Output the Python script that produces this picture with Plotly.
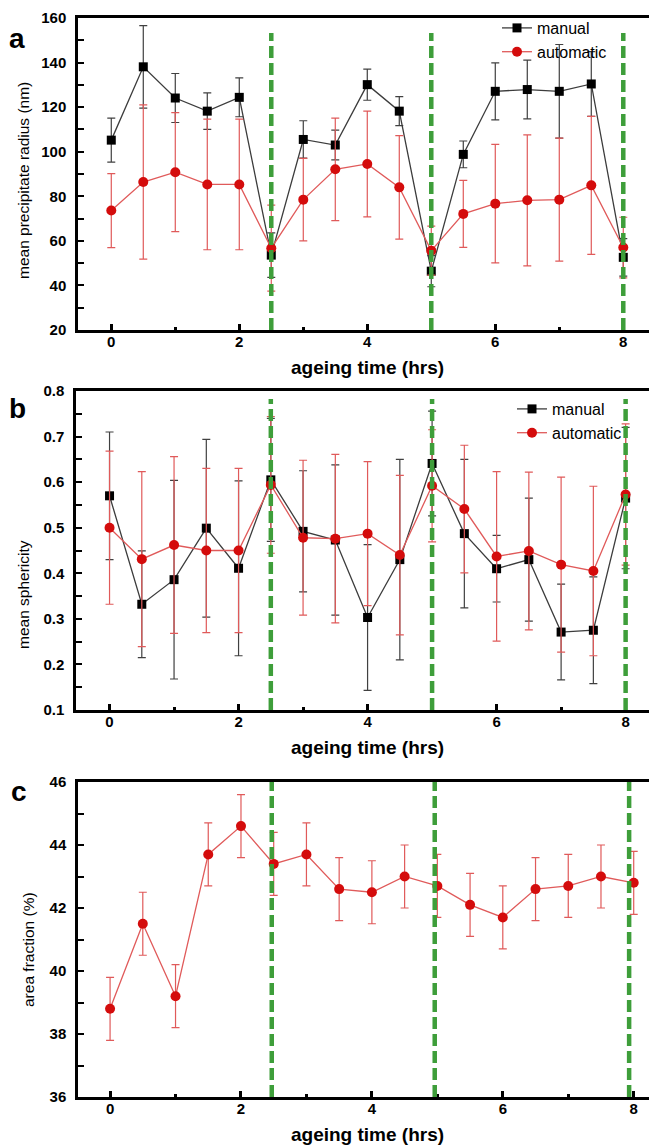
import plotly.graph_objects as go

# ---------------- data ----------------
TIME = [0, 0.5, 1, 1.5, 2, 2.5, 3, 3.5, 4, 4.5, 5, 5.5, 6, 6.5, 7, 7.5, 8]

RADIUS_MANUAL = [105.2, 138.1, 124.1, 118.2, 124.4, 53.6, 105.5, 103.0, 130.1,
                 118.2, 46.4, 98.8, 127.1, 127.9, 127.1, 130.4, 52.6]
RADIUS_MANUAL_ERR = [9.9, 18.5, 11.0, 8.2, 8.7, 10.0, 8.4, 6.7, 7.0,
                     6.5, 7.0, 6.0, 12.8, 13.2, 21.0, 14.5, 8.4]
RADIUS_AUTO = [73.6, 86.4, 90.8, 85.3, 85.3, 56.7, 78.5, 92.1, 94.5,
               84.0, 55.6, 72.1, 76.7, 78.2, 78.5, 84.9, 57.0]
RADIUS_AUTO_ERR = [16.6, 34.6, 26.7, 29.3, 29.3, 19.3, 18.5, 23.0, 23.7,
                   23.2, 11.0, 15.0, 26.6, 29.4, 27.6, 31.0, 13.6]

SPH_MANUAL = [0.570, 0.332, 0.386, 0.499, 0.411, 0.605, 0.492, 0.473, 0.303,
              0.430, 0.641, 0.487, 0.410, 0.430, 0.271, 0.275, 0.565]
SPH_MANUAL_ERR = [0.140, 0.117, 0.218, 0.195, 0.192, 0.135, 0.133, 0.165, 0.160,
                  0.220, 0.115, 0.163, 0.073, 0.135, 0.105, 0.117, 0.155]
SPH_AUTO = [0.500, 0.431, 0.462, 0.450, 0.450, 0.594, 0.478, 0.476, 0.487,
            0.440, 0.592, 0.541, 0.437, 0.449, 0.419, 0.405, 0.573]
SPH_AUTO_ERR = [0.168, 0.192, 0.194, 0.180, 0.180, 0.150, 0.170, 0.185, 0.158,
                0.175, 0.123, 0.140, 0.186, 0.173, 0.192, 0.186, 0.155]

AREA = [38.8, 41.5, 39.2, 43.7, 44.6, 43.4, 43.7, 42.6, 42.5,
        43.0, 42.7, 42.1, 41.7, 42.6, 42.7, 43.0, 42.8]
AREA_ERR = [1.0, 1.0, 1.0, 1.0, 1.0, 1.0, 1.0, 1.0, 1.0,
            1.0, 1.0, 1.0, 1.0, 1.0, 1.0, 1.0, 1.0]

VLINES_AB = [2.5, 5, 8]
VLINES_C = [2.47, 4.96, 7.93]

X_TITLE = "ageing time (hrs)"
Y_TITLES = ["mean precipitate radius (nm)", "mean sphericity", "area fraction (%)"]
PANEL_LETTERS = ["a", "b", "c"]
SERIES_NAMES = ["manual", "automatic"]

# ---------------- style ----------------
OFF = 8                      # default body margin of the page
W, H = 657 - OFF, 1146 - OFF
FONT = "Liberation Sans, Arial, sans-serif"
BLACK_LINE = "#3c3c3c"
RED_MARK = "#d40c0c"
RED_LINE = "#e05a5a"
GREEN = "#3e9e3a"


def px(x):  # page pixel -> paper x
    return (x - OFF) / W


def py(y):  # page pixel -> paper y
    return 1 - (y - OFF) / H


fig = go.Figure()


def add_pair(xa, ya, man, man_err, aut, aut_err, legend):
    fig.add_trace(go.Scatter(
        x=TIME, y=man, name=SERIES_NAMES[0], mode="lines+markers",
        xaxis=xa, yaxis=ya, legend=legend,
        line=dict(color=BLACK_LINE, width=1.3),
        marker=dict(symbol="square", size=9, color="black"),
        error_y=dict(type="data", array=man_err, visible=True,
                     color="#404040", thickness=1.2, width=4),
    ))
    fig.add_trace(go.Scatter(
        x=TIME, y=aut, name=SERIES_NAMES[1], mode="lines+markers",
        xaxis=xa, yaxis=ya, legend=legend,
        line=dict(color=RED_LINE, width=1.3),
        marker=dict(symbol="circle", size=10, color=RED_MARK),
        error_y=dict(type="data", array=aut_err, visible=True,
                     color=RED_LINE, thickness=1.2, width=4),
    ))


add_pair("x", "y", RADIUS_MANUAL, RADIUS_MANUAL_ERR, RADIUS_AUTO, RADIUS_AUTO_ERR, "legend")
add_pair("x2", "y2", SPH_MANUAL, SPH_MANUAL_ERR, SPH_AUTO, SPH_AUTO_ERR, "legend2")
fig.add_trace(go.Scatter(
    x=TIME, y=AREA, mode="lines+markers", xaxis="x3", yaxis="y3", showlegend=False,
    line=dict(color=RED_LINE, width=1.3),
    marker=dict(symbol="circle", size=10, color=RED_MARK),
    error_y=dict(type="data", array=AREA_ERR, visible=True,
                 color=RED_LINE, thickness=1.2, width=4),
))

tickfont = dict(family=FONT, size=15, color="black", weight="bold")


def xaxis(domain, rng, anchor):
    return dict(domain=domain, range=rng, anchor=anchor, showgrid=False, zeroline=False,
                showline=True, linecolor="black", linewidth=2.5, mirror=True,
                ticks="inside", ticklen=6, tickwidth=2.5, tickcolor="black",
                tick0=0, dtick=2, tickfont=tickfont, automargin=False,
                ticklabelstandoff=-4, ticklabeloverflow="allow",
                minor=dict(ticks="inside", ticklen=3, tickwidth=2.5, tickcolor="black",
                           tick0=0, dtick=1))


def yaxis(domain, rng, dtick, mdtick, anchor, fmt=None):
    d = dict(domain=domain, range=rng, anchor=anchor, showgrid=False, zeroline=False,
             showline=True, linecolor="black", linewidth=2.5, mirror=True,
             ticks="inside", ticklen=6, tickwidth=1.5, tickcolor="black",
             tick0=rng[0], dtick=dtick, tickfont=tickfont, automargin=False,
             ticklabelstandoff=6, ticklabeloverflow="allow",
             minor=dict(ticks="inside", ticklen=6, tickwidth=1.5, tickcolor="black",
                        tick0=rng[0], dtick=mdtick))
    if fmt:
        d["tickformat"] = fmt
    return d


# plot areas (page pixel edges)
A = dict(l=78, r=654, t=18, b=330)
B = dict(l=76, r=654, t=391, b=710)
C = dict(l=78, r=654, t=782, b=1097)

legend_font = dict(family=FONT, size=16, color="black")
fig.update_layout(
    width=W, height=H, margin=dict(l=0, r=0, t=0, b=0),
    paper_bgcolor="white", plot_bgcolor="white",
    font=dict(family=FONT, color="black"),
    xaxis=xaxis([px(A["l"]), px(A["r"])], [-0.52, 8.48], "y"),
    yaxis=yaxis([py(A["b"]), py(A["t"])], [20, 160], 20, 10, "x"),
    xaxis2=xaxis([px(B["l"]), px(B["r"])], [-0.52, 8.44], "y2"),
    yaxis2=yaxis([py(B["b"]), py(B["t"])], [0.1, 0.8], 0.1, 0.05, "x2", ".1f"),
    xaxis3=xaxis([px(C["l"]), px(C["r"])], [-0.49, 8.31], "y3"),
    yaxis3=yaxis([py(C["b"]), py(C["t"])], [36, 46], 2, 1, "x3"),
    legend=dict(x=px(497), y=py(11), xanchor="left", yanchor="top",
                bgcolor="rgba(0,0,0,0)", font=legend_font,
                tracegroupgap=0, itemwidth=30),
    legend2=dict(x=px(512), y=py(392), xanchor="left", yanchor="top",
                 bgcolor="rgba(0,0,0,0)", font=legend_font,
                 tracegroupgap=0, itemwidth=30),
)

# vertical dashed green lines
for xa, vl, top in [("x", VLINES_AB, 0.952), ("x2", VLINES_AB, 0.975), ("x3", VLINES_C, 1.0)]:
    ya = "y" + xa[1:]
    for v in vl:
        fig.add_shape(type="line", xref=xa, yref=ya + " domain", x0=v, x1=v, y0=0, y1=top,
                      line=dict(color=GREEN, width=4.5, dash="12px,5px"), layer="above")

# annotations: panel letters, axis titles (page-pixel centres)
letters_pos = [(17, 39), (17, 409), (19, 791)]
for t, (x, y) in zip(PANEL_LETTERS, letters_pos):
    fig.add_annotation(text=t, x=px(x), y=py(y), xref="paper", yref="paper",
                       xanchor="center", yanchor="middle", showarrow=False,
                       font=dict(family=FONT, size=28, color="black", weight="bold"))

ytitle_pos = [(23, 181), (23, 595), (28, 950)]
for t, (x, y) in zip(Y_TITLES, ytitle_pos):
    fig.add_annotation(text=t, x=px(x), y=py(y), xref="paper", yref="paper",
                       xanchor="center", yanchor="middle", showarrow=False, textangle=-90,
                       font=dict(family=FONT, size=15.5, color="black"))

xtitle_pos = [(367, 367), (367, 747), (367, 1134)]
for (x, y) in xtitle_pos:
    fig.add_annotation(text=X_TITLE, x=px(x), y=py(y), xref="paper", yref="paper",
                       xanchor="center", yanchor="middle", showarrow=False,
                       font=dict(family=FONT, size=19, color="black", weight="bold"))

fig.write_html("out.html")
